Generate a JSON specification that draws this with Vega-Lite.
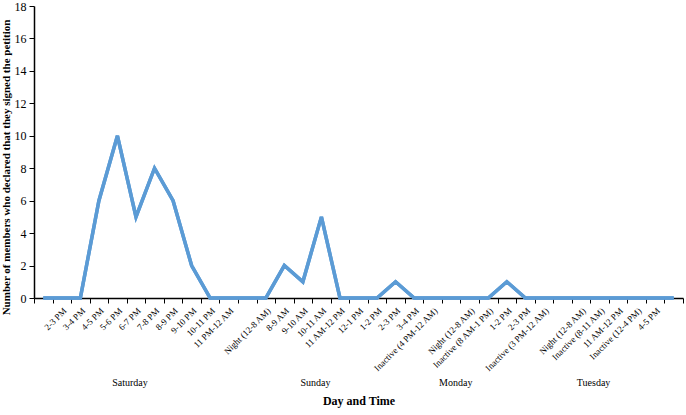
{
  "$schema": "https://vega.github.io/schema/vega-lite/v6.json",
  "width": 649,
  "height": 292,
  "padding": {"left": 0, "top": 0, "right": 2, "bottom": 2},
  "background": "white",
  "config": {
    "view": {"stroke": null},
    "font": "Liberation Serif",
    "axis": {"domainColor": "black", "tickColor": "black", "labelColor": "black", "titleColor": "black", "grid": false, "labelFont": "Liberation Serif", "titleFont": "Liberation Serif"}
  },
  "data": {
    "values": [
      {"key": "s0|", "count": 0},
      {"key": "Sat|2-3 PM", "count": 0},
      {"key": "Sat|3-4 PM", "count": 0},
      {"key": "Sat|4-5 PM", "count": 6},
      {"key": "Sat|5-6 PM", "count": 10},
      {"key": "Sat|6-7 PM", "count": 5},
      {"key": "Sat|7-8 PM", "count": 8},
      {"key": "Sat|8-9 PM", "count": 6},
      {"key": "Sat|9-10 PM", "count": 2},
      {"key": "Sat|10-11 PM", "count": 0},
      {"key": "Sat|11 PM-12 AM", "count": 0},
      {"key": "s1|", "count": 0},
      {"key": "Sun|Night (12-8 AM)", "count": 0},
      {"key": "Sun|8-9 AM", "count": 2},
      {"key": "Sun|9-10 AM", "count": 1},
      {"key": "Sun|10-11 AM", "count": 5},
      {"key": "Sun|11 AM-12 PM", "count": 0},
      {"key": "Sun|12-1 PM", "count": 0},
      {"key": "Sun|1-2 PM", "count": 0},
      {"key": "Sun|2-3 PM", "count": 1},
      {"key": "Sun|3-4 PM", "count": 0},
      {"key": "Sun|Inactive (4 PM-12 AM)", "count": 0},
      {"key": "s2|", "count": 0},
      {"key": "Mon|Night (12-8 AM)", "count": 0},
      {"key": "Mon|Inactive (8 AM-1 PM)", "count": 0},
      {"key": "Mon|1-2 PM", "count": 1},
      {"key": "Mon|2-3 PM", "count": 0},
      {"key": "Mon|Inactive (3 PM-12 AM)", "count": 0},
      {"key": "s3|", "count": 0},
      {"key": "Tue|Night (12-8 AM)", "count": 0},
      {"key": "Tue|Inactive (8-11 AM)", "count": 0},
      {"key": "Tue|11 AM-12 PM", "count": 0},
      {"key": "Tue|Inactive (12-4 PM)", "count": 0},
      {"key": "Tue|4-5 PM", "count": 0},
      {"key": "s4|", "count": 0}
    ]
  },
  "layer": [
    {
      "mark": {"type": "line", "color": "#5B9BD5", "strokeWidth": 3.5},
      "encoding": {
        "x": {
          "field": "key", "type": "nominal", "sort": null,
          "scale": {"type": "band", "paddingInner": 0, "paddingOuter": 0},
          "axis": {
            "labelExpr": "split(datum.value, '|')[1]",
            "labelAngle": -45,
            "labelFontSize": 9,
            "tickBand": "extent",
            "tickSize": 5,
            "labelPadding": 3,
            "labelOverlap": false,
            "title": null,
            "domainWidth": 1.5
          }
        },
        "y": {
          "field": "count", "type": "quantitative",
          "scale": {"domain": [0, 18]},
          "axis": {
            "values": [0, 2, 4, 6, 8, 10, 12, 14, 16, 18],
            "labelOverlap": false,
            "title": "Number of members who declared that they signed the petition",
            "titleFontSize": 11,
            "titleFontWeight": "bold",
            "labelFontSize": 12,
            "tickSize": 5,
            "labelPadding": 3,
            "titlePadding": 3,
            "titleY": 161,
            "domainWidth": 1.5
          }
        }
      }
    },
    {
      "mark": {"type": "line", "color": "#5B9BD5", "strokeWidth": 3.5},
      "encoding": {
        "x": {
          "field": "key", "type": "nominal", "sort": null,
          "axis": {
            "orient": "bottom",
            "offset": 79,
            "domain": false,
            "ticks": false,
            "values": ["Sat|6-7 PM", "Sun|10-11 AM", "Mon|Night (12-8 AM)", "Tue|Inactive (8-11 AM)"],
            "labelExpr": "{'Sat': 'Saturday', 'Sun': 'Sunday', 'Mon': 'Monday', 'Tue': 'Tuesday'}[split(datum.value, '|')[0]]",
            "labelOffset": {"condition": {"test": "datum.value == 'Mon|Night (12-8 AM)'", "value": -14}, "value": -6},
            "labelAngle": 0,
            "labelFontSize": 10,
            "labelPadding": 0,
            "labelOverlap": false,
            "title": "Day and Time",
            "titleFontSize": 12,
            "titleFontWeight": "bold",
            "titlePadding": 8
          }
        },
        "y": {
          "field": "count", "type": "quantitative",
          "scale": {"domain": [0, 18]},
          "axis": {
            "values": [0, 2, 4, 6, 8, 10, 12, 14, 16, 18],
            "labelOverlap": false,
            "title": "Number of members who declared that they signed the petition",
            "titleFontSize": 11,
            "titleFontWeight": "bold",
            "labelFontSize": 12,
            "tickSize": 5,
            "labelPadding": 3,
            "titlePadding": 3,
            "titleY": 161,
            "domainWidth": 1.5
          }
        }
      }
    }
  ],
  "resolve": {"axis": {"x": "independent", "y": "shared"}}
}
